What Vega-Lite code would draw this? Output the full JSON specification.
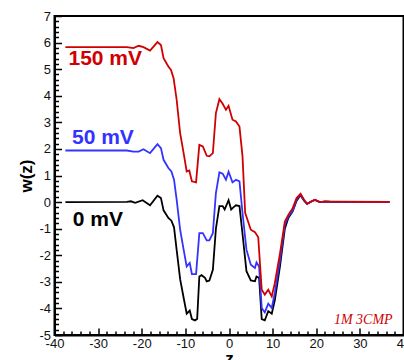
{
  "$schema": "https://vega.github.io/schema/vega-lite/v6.json",
  "autosize": {"type": "none"},
  "padding": {"left": 54.5, "top": 16, "right": 0.5, "bottom": 25},
  "width": 349,
  "height": 319,
  "background": "white",
  "config": {
    "view": {"stroke": "black", "strokeWidth": 2},
    "axis": {
      "labelFont": "Liberation Sans",
      "labelFontSize": 13,
      "labelColor": "#111",
      "titleFont": "Liberation Sans",
      "titleFontSize": 17,
      "titleFontWeight": "bold",
      "titleColor": "black",
      "domainColor": "black",
      "domainWidth": 2,
      "tickColor": "black",
      "tickWidth": 1.5,
      "grid": false
    }
  },
  "datasets": {
    "curves": [
      {"s": "0 mV", "z": -37.5, "w": 0}, {"s": "0 mV", "z": -23.4, "w": 0.01}, {"s": "0 mV", "z": -22.5, "w": 0.03}, {"s": "0 mV", "z": -21.5, "w": -0.03}, {"s": "0 mV", "z": -19.8, "w": 0.07}, {"s": "0 mV", "z": -18.1, "w": -0.12}, {"s": "0 mV", "z": -16.4, "w": 0.24}, {"s": "0 mV", "z": -15.6, "w": 0.15}, {"s": "0 mV", "z": -15.0, "w": -0.31}, {"s": "0 mV", "z": -13.9, "w": -0.6}, {"s": "0 mV", "z": -13.2, "w": -0.7}, {"s": "0 mV", "z": -12.6, "w": -0.95}, {"s": "0 mV", "z": -12.0, "w": -1.8}, {"s": "0 mV", "z": -11.2, "w": -2.9}, {"s": "0 mV", "z": -10.4, "w": -3.6}, {"s": "0 mV", "z": -9.7, "w": -4.2}, {"s": "0 mV", "z": -9.0, "w": -4.08}, {"s": "0 mV", "z": -8.5, "w": -4.4}, {"s": "0 mV", "z": -7.8, "w": -4.45}, {"s": "0 mV", "z": -7.3, "w": -4.4}, {"s": "0 mV", "z": -6.8, "w": -2.8}, {"s": "0 mV", "z": -6.3, "w": -2.75}, {"s": "0 mV", "z": -5.5, "w": -2.85}, {"s": "0 mV", "z": -5.1, "w": -2.98}, {"s": "0 mV", "z": -4.5, "w": -2.95}, {"s": "0 mV", "z": -3.7, "w": -2.55}, {"s": "0 mV", "z": -3.0, "w": -1.0}, {"s": "0 mV", "z": -2.2, "w": -0.15}, {"s": "0 mV", "z": -1.45, "w": -0.15}, {"s": "0 mV", "z": -1.0, "w": -0.28}, {"s": "0 mV", "z": -0.1, "w": 0.07}, {"s": "0 mV", "z": 0.5, "w": -0.28}, {"s": "0 mV", "z": 1.0, "w": -0.2}, {"s": "0 mV", "z": 1.6, "w": -0.12}, {"s": "0 mV", "z": 2.4, "w": -0.15}, {"s": "0 mV", "z": 3.1, "w": -1.2}, {"s": "0 mV", "z": 4.0, "w": -2.6}, {"s": "0 mV", "z": 5.0, "w": -2.95}, {"s": "0 mV", "z": 5.95, "w": -2.98}, {"s": "0 mV", "z": 6.3, "w": -2.8}, {"s": "0 mV", "z": 6.9, "w": -2.85}, {"s": "0 mV", "z": 7.5, "w": -4.4}, {"s": "0 mV", "z": 8.2, "w": -4.45}, {"s": "0 mV", "z": 9.0, "w": -4.1}, {"s": "0 mV", "z": 9.8, "w": -4.2}, {"s": "0 mV", "z": 10.5, "w": -3.7}, {"s": "0 mV", "z": 11.7, "w": -2.4}, {"s": "0 mV", "z": 12.8, "w": -1.0}, {"s": "0 mV", "z": 13.6, "w": -0.6}, {"s": "0 mV", "z": 14.6, "w": -0.35}, {"s": "0 mV", "z": 15.5, "w": 0.05}, {"s": "0 mV", "z": 16.4, "w": 0.26}, {"s": "0 mV", "z": 17.2, "w": 0.05}, {"s": "0 mV", "z": 17.9, "w": -0.07}, {"s": "0 mV", "z": 18.9, "w": 0.02}, {"s": "0 mV", "z": 19.7, "w": 0.08}, {"s": "0 mV", "z": 20.8, "w": 0}, {"s": "0 mV", "z": 22.0, "w": 0.02}, {"s": "0 mV", "z": 36.8, "w": 0.01},
      {"s": "50 mV", "z": -37.5, "w": 1.94}, {"s": "50 mV", "z": -23.4, "w": 1.94}, {"s": "50 mV", "z": -21.9, "w": 1.9}, {"s": "50 mV", "z": -20.7, "w": 1.9}, {"s": "50 mV", "z": -19.6, "w": 1.99}, {"s": "50 mV", "z": -18.1, "w": 1.84}, {"s": "50 mV", "z": -16.4, "w": 2.18}, {"s": "50 mV", "z": -15.6, "w": 2.03}, {"s": "50 mV", "z": -15.0, "w": 1.59}, {"s": "50 mV", "z": -13.9, "w": 1.28}, {"s": "50 mV", "z": -13.2, "w": 1.15}, {"s": "50 mV", "z": -12.6, "w": 0.84}, {"s": "50 mV", "z": -12.0, "w": 0.09}, {"s": "50 mV", "z": -11.2, "w": -1.04}, {"s": "50 mV", "z": -10.4, "w": -1.79}, {"s": "50 mV", "z": -9.7, "w": -2.42}, {"s": "50 mV", "z": -9.0, "w": -2.29}, {"s": "50 mV", "z": -8.5, "w": -2.71}, {"s": "50 mV", "z": -7.55, "w": -2.71}, {"s": "50 mV", "z": -6.8, "w": -1.17}, {"s": "50 mV", "z": -6.0, "w": -1.17}, {"s": "50 mV", "z": -5.1, "w": -1.44}, {"s": "50 mV", "z": -4.5, "w": -1.44}, {"s": "50 mV", "z": -3.7, "w": -1.17}, {"s": "50 mV", "z": -3.0, "w": 0.34}, {"s": "50 mV", "z": -2.2, "w": 1.12}, {"s": "50 mV", "z": -1.45, "w": 1.07}, {"s": "50 mV", "z": -0.7, "w": 0.84}, {"s": "50 mV", "z": -0.1, "w": 1.14}, {"s": "50 mV", "z": 0.8, "w": 0.74}, {"s": "50 mV", "z": 1.6, "w": 0.84}, {"s": "50 mV", "z": 2.4, "w": 0.78}, {"s": "50 mV", "z": 3.1, "w": -0.41}, {"s": "50 mV", "z": 4.0, "w": -1.79}, {"s": "50 mV", "z": 5.0, "w": -2.36}, {"s": "50 mV", "z": 5.95, "w": -2.48}, {"s": "50 mV", "z": 6.3, "w": -2.27}, {"s": "50 mV", "z": 6.9, "w": -2.42}, {"s": "50 mV", "z": 7.5, "w": -3.98}, {"s": "50 mV", "z": 8.2, "w": -4.15}, {"s": "50 mV", "z": 9.0, "w": -3.82}, {"s": "50 mV", "z": 9.8, "w": -3.98}, {"s": "50 mV", "z": 10.5, "w": -3.42}, {"s": "50 mV", "z": 11.7, "w": -2.17}, {"s": "50 mV", "z": 12.8, "w": -0.85}, {"s": "50 mV", "z": 13.6, "w": -0.54}, {"s": "50 mV", "z": 14.6, "w": -0.32}, {"s": "50 mV", "z": 15.5, "w": 0.1}, {"s": "50 mV", "z": 16.4, "w": 0.28}, {"s": "50 mV", "z": 17.2, "w": 0.07}, {"s": "50 mV", "z": 17.9, "w": -0.07}, {"s": "50 mV", "z": 18.9, "w": 0.02}, {"s": "50 mV", "z": 19.7, "w": 0.08}, {"s": "50 mV", "z": 20.8, "w": 0}, {"s": "50 mV", "z": 22.0, "w": 0.02}, {"s": "50 mV", "z": 23.1, "w": 0.01}, {"s": "50 mV", "z": 36.8, "w": 0.01},
      {"s": "150 mV", "z": -37.5, "w": 5.83}, {"s": "150 mV", "z": -23.4, "w": 5.83}, {"s": "150 mV", "z": -21.9, "w": 5.79}, {"s": "150 mV", "z": -20.7, "w": 5.88}, {"s": "150 mV", "z": -19.6, "w": 5.83}, {"s": "150 mV", "z": -18.1, "w": 5.7}, {"s": "150 mV", "z": -16.4, "w": 6.02}, {"s": "150 mV", "z": -15.6, "w": 5.91}, {"s": "150 mV", "z": -15.0, "w": 5.41}, {"s": "150 mV", "z": -13.9, "w": 5.1}, {"s": "150 mV", "z": -13.3, "w": 4.97}, {"s": "150 mV", "z": -12.7, "w": 4.66}, {"s": "150 mV", "z": -12.0, "w": 3.85}, {"s": "150 mV", "z": -11.2, "w": 2.59}, {"s": "150 mV", "z": -10.4, "w": 1.84}, {"s": "150 mV", "z": -9.7, "w": 1.15}, {"s": "150 mV", "z": -9.1, "w": 1.19}, {"s": "150 mV", "z": -8.5, "w": 0.78}, {"s": "150 mV", "z": -7.55, "w": 0.74}, {"s": "150 mV", "z": -6.8, "w": 2.15}, {"s": "150 mV", "z": -6.0, "w": 2.09}, {"s": "150 mV", "z": -5.1, "w": 1.74}, {"s": "150 mV", "z": -4.5, "w": 1.72}, {"s": "150 mV", "z": -3.7, "w": 1.84}, {"s": "150 mV", "z": -3.0, "w": 3.35}, {"s": "150 mV", "z": -2.2, "w": 3.87}, {"s": "150 mV", "z": -1.45, "w": 3.7}, {"s": "150 mV", "z": -0.7, "w": 3.47}, {"s": "150 mV", "z": -0.1, "w": 3.62}, {"s": "150 mV", "z": 0.8, "w": 3.1}, {"s": "150 mV", "z": 1.6, "w": 3.03}, {"s": "150 mV", "z": 2.4, "w": 2.84}, {"s": "150 mV", "z": 3.1, "w": 1.72}, {"s": "150 mV", "z": 3.7, "w": -0.4}, {"s": "150 mV", "z": 5.0, "w": -1.04}, {"s": "150 mV", "z": 5.95, "w": -1.13}, {"s": "150 mV", "z": 6.7, "w": -1.32}, {"s": "150 mV", "z": 7.5, "w": -3.3}, {"s": "150 mV", "z": 8.2, "w": -3.48}, {"s": "150 mV", "z": 9.0, "w": -3.3}, {"s": "150 mV", "z": 9.8, "w": -3.55}, {"s": "150 mV", "z": 10.5, "w": -3.05}, {"s": "150 mV", "z": 11.7, "w": -1.92}, {"s": "150 mV", "z": 12.8, "w": -0.73}, {"s": "150 mV", "z": 13.6, "w": -0.48}, {"s": "150 mV", "z": 14.6, "w": -0.23}, {"s": "150 mV", "z": 15.5, "w": 0.15}, {"s": "150 mV", "z": 16.4, "w": 0.31}, {"s": "150 mV", "z": 17.2, "w": 0.09}, {"s": "150 mV", "z": 17.9, "w": -0.06}, {"s": "150 mV", "z": 18.9, "w": 0.03}, {"s": "150 mV", "z": 19.7, "w": 0.09}, {"s": "150 mV", "z": 20.8, "w": 0}, {"s": "150 mV", "z": 22.0, "w": 0.03}, {"s": "150 mV", "z": 23.1, "w": 0.02}, {"s": "150 mV", "z": 30.0, "w": 0.01}, {"s": "150 mV", "z": 36.8, "w": 0.01}
    ],
    "labels": [
      {"s": "150 mV", "z": -36.8, "w": 5.39},
      {"s": "50 mV", "z": -36.0, "w": 2.42},
      {"s": "0 mV", "z": -35.8, "w": -0.67}
    ]
  },
  "resolve": {"axis": {"x": "independent", "y": "independent"}},
  "layer": [
    {
      "data": {"name": "curves"},
      "transform": [{"filter": "datum.s === '0 mV'"}],
      "mark": {"type": "line", "strokeWidth": 1.8, "color": "black", "clip": true},
      "encoding": {
        "x": {"field": "z", "type": "quantitative", "scale": {"domain": [-40, 40], "nice": false, "zero": false},
              "axis": {"orient": "bottom", "values": [-38, -36, -34, -32, -28, -26, -24, -22, -18, -16, -14, -12, -8, -6, -4, -2, 2, 4, 6, 8, 12, 14, 16, 18, 22, 24, 26, 28, 32, 34, 36, 38], "labels": false, "tickSize": -4, "domain": false, "title": null}},
        "y": {"field": "w", "type": "quantitative", "scale": {"domain": [-5, 7], "nice": false, "zero": false},
              "axis": {"orient": "left", "values": [-4.8, -4.6, -4.4, -4.2, -3.8, -3.6, -3.4, -3.2, -2.8, -2.6, -2.4, -2.2, -1.8, -1.6, -1.4, -1.2, -0.8, -0.6, -0.4, -0.2, 0.2, 0.4, 0.6, 0.8, 1.2, 1.4, 1.6, 1.8, 2.2, 2.4, 2.6, 2.8, 3.2, 3.4, 3.6, 3.8, 4.2, 4.4, 4.6, 4.8, 5.2, 5.4, 5.6, 5.8, 6.2, 6.4, 6.6, 6.8], "labels": false, "tickSize": -4, "domain": false, "title": null}},
        "order": {"field": "z", "type": "quantitative"}
      }
    },
    {
      "data": {"name": "curves"},
      "transform": [{"filter": "datum.s === '50 mV'"}],
      "mark": {"type": "line", "strokeWidth": 1.8, "color": "#3333ff", "clip": true},
      "encoding": {
        "x": {"field": "z", "type": "quantitative",
              "axis": {"orient": "bottom", "values": [-40, -30, -20, -10, 0, 10, 20, 30, 40], "labelExpr": "'' + datum.value", "tickSize": -7, "labelPadding": 9, "title": "z", "titlePadding": 0, "labelFlush": false}},
        "y": {"field": "w", "type": "quantitative",
              "axis": {"orient": "left", "values": [-5, -4, -3, -2, -1, 0, 1, 2, 3, 4, 5, 6, 7], "labelExpr": "'' + datum.value", "tickSize": -7, "labelPadding": 11, "title": "w(z)", "titlePadding": 3, "labelFlush": false}},
        "order": {"field": "z", "type": "quantitative"}
      }
    },
    {
      "data": {"name": "curves"},
      "transform": [{"filter": "datum.s === '150 mV'"}],
      "mark": {"type": "line", "strokeWidth": 1.8, "color": "#d00000", "clip": true},
      "encoding": {
        "x": {"field": "z", "type": "quantitative", "axis": null},
        "y": {"field": "w", "type": "quantitative", "axis": null},
        "order": {"field": "z", "type": "quantitative"}
      }
    },
    {
      "data": {"name": "labels"},
      "mark": {"type": "text", "align": "left", "baseline": "middle", "font": "Liberation Sans", "fontSize": 21, "fontWeight": "bold"},
      "encoding": {
        "x": {"field": "z", "type": "quantitative", "axis": null},
        "y": {"field": "w", "type": "quantitative", "axis": null},
        "text": {"field": "s"},
        "color": {"field": "s", "type": "nominal", "legend": null,
                  "scale": {"domain": ["0 mV", "50 mV", "150 mV"], "range": ["black", "#3333ff", "#d00000"]}}
      }
    },
    {
      "data": {"values": [{"note": "1M 3CMP", "z": 37.5, "w": -4.6}]},
      "mark": {"type": "text", "align": "right", "baseline": "alphabetic", "font": "Liberation Serif", "fontSize": 14, "fontStyle": "italic", "color": "#d00000"},
      "encoding": {
        "x": {"field": "z", "type": "quantitative", "axis": null},
        "y": {"field": "w", "type": "quantitative", "axis": null},
        "text": {"field": "note"}
      }
    }
  ]
}
